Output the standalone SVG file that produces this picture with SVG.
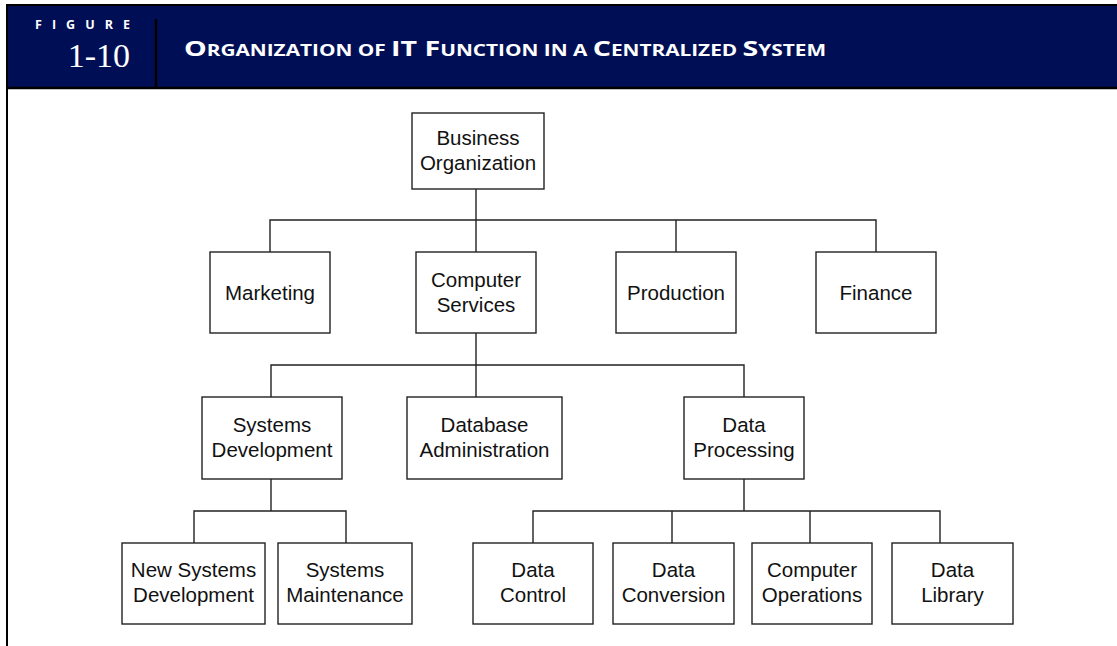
<svg xmlns="http://www.w3.org/2000/svg" width="1117" height="646" viewBox="0 0 1117 646">
<style>
.box{fill:#fff;stroke:#222;stroke-width:1.4}
.lbl{font-family:"Liberation Sans",Arial,Helvetica,sans-serif;font-size:20.5px;fill:#111;text-anchor:middle}
.con{fill:none;stroke:#222;stroke-width:1.4}
.hd{font-family:"Open Sans",Lato,sans-serif;font-weight:700;fill:#fff}
</style>
<rect x="0" y="0" width="1117" height="646" fill="#fff"/>
<g id="header">
<rect x="7" y="5" width="1110" height="83" fill="#000f55"/>
<line x1="6" y1="5" x2="1117" y2="5" stroke="#000" stroke-width="2"/>
<line x1="6" y1="88" x2="1117" y2="88" stroke="#000" stroke-width="2.5"/>
<line x1="7" y1="4" x2="7" y2="646" stroke="#000" stroke-width="2"/>
<line x1="156" y1="19" x2="156" y2="88" stroke="#000" stroke-width="2.5"/>
<text class="hd" x="35" y="29" font-size="12.5" textLength="95" lengthAdjust="spacing">FIGURE</text>
<text x="130" y="67" font-family="'Liberation Serif','Times New Roman',serif" font-size="34" fill="#fff" text-anchor="end">1-10</text>
<text class="hd" x="184" y="56" textLength="642" lengthAdjust="spacingAndGlyphs"><tspan font-size="22">O</tspan><tspan font-size="16">RGANIZATION OF </tspan><tspan font-size="22">IT F</tspan><tspan font-size="16">UNCTION IN A </tspan><tspan font-size="22">C</tspan><tspan font-size="16">ENTRALIZED </tspan><tspan font-size="22">S</tspan><tspan font-size="16">YSTEM</tspan></text>
</g>
<g id="connectors">
<path class="con" d="M476 189V220M270 252V220H876V252M476 220V252M676 220V252"/>
<path class="con" d="M476 333V365M271 397V365H744V397M476 365V397"/>
<path class="con" d="M271 479V511M194 543V511H346V543"/>
<path class="con" d="M744 479V511M533 543V511H940V543M672 511V543M810 511V543"/>
</g>
<g id="business-organization"><rect class="box" x="412" y="113" width="132" height="76"/><text class="lbl" x="478" y="145">Business</text><text class="lbl" x="478" y="170">Organization</text></g>
<g id="marketing"><rect class="box" x="210" y="252" width="120" height="81"/><text class="lbl" x="270" y="300">Marketing</text></g>
<g id="computer-services"><rect class="box" x="416" y="252" width="120" height="81"/><text class="lbl" x="476" y="287">Computer</text><text class="lbl" x="476" y="312">Services</text></g>
<g id="production"><rect class="box" x="616" y="252" width="120" height="81"/><text class="lbl" x="676" y="300">Production</text></g>
<g id="finance"><rect class="box" x="816" y="252" width="120" height="81"/><text class="lbl" x="876" y="300">Finance</text></g>
<g id="systems-development"><rect class="box" x="202" y="397" width="140" height="82"/><text class="lbl" x="272" y="432">Systems</text><text class="lbl" x="272" y="457">Development</text></g>
<g id="database-administration"><rect class="box" x="407" y="397" width="155" height="82"/><text class="lbl" x="484.5" y="432">Database</text><text class="lbl" x="484.5" y="457">Administration</text></g>
<g id="data-processing"><rect class="box" x="684" y="397" width="120" height="82"/><text class="lbl" x="744" y="432">Data</text><text class="lbl" x="744" y="457">Processing</text></g>
<g id="new-systems-development"><rect class="box" x="122" y="543" width="143" height="81"/><text class="lbl" x="193.5" y="577">New Systems</text><text class="lbl" x="193.5" y="602">Development</text></g>
<g id="systems-maintenance"><rect class="box" x="278" y="543" width="134" height="81"/><text class="lbl" x="345" y="577">Systems</text><text class="lbl" x="345" y="602">Maintenance</text></g>
<g id="data-control"><rect class="box" x="473" y="543" width="120" height="81"/><text class="lbl" x="533" y="577">Data</text><text class="lbl" x="533" y="602">Control</text></g>
<g id="data-conversion"><rect class="box" x="613" y="543" width="121" height="81"/><text class="lbl" x="673.5" y="577">Data</text><text class="lbl" x="673.5" y="602">Conversion</text></g>
<g id="computer-operations"><rect class="box" x="752" y="543" width="120" height="81"/><text class="lbl" x="812" y="577">Computer</text><text class="lbl" x="812" y="602">Operations</text></g>
<g id="data-library"><rect class="box" x="892" y="543" width="121" height="81"/><text class="lbl" x="952.5" y="577">Data</text><text class="lbl" x="952.5" y="602">Library</text></g>
</svg>
